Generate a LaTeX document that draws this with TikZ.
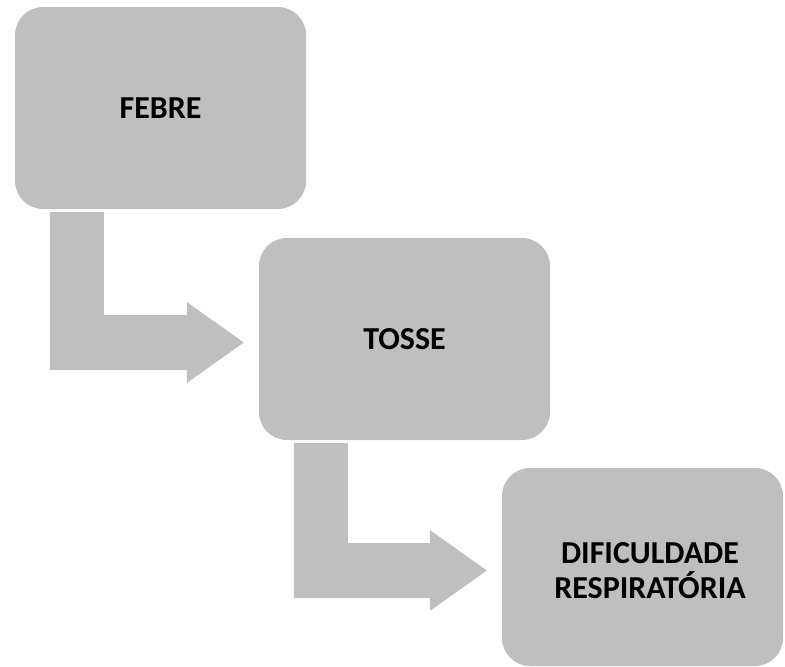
\documentclass[tikz,border=0pt]{standalone}
\usepackage{fontspec}
\setmainfont{Carlito}
\usetikzlibrary{calc}
\definecolor{boxgray}{HTML}{BFBFBF}
\tikzset{
  boxfont/.style={font=\fontsize{32}{35}\selectfont\bfseries},
  stepbox/.style={rectangle, rounded corners=28pt, fill=boxgray, draw=none, inner sep=0pt,
    boxfont, align=center},
  arrowfill/.style={fill=boxgray}
}
\newcommand\bentarr[2]{%
  \fill[arrowfill] let \p1=($(#1.south west)+(35,3)$), \p2=($(#2.west)+(-15,3.5)$) in
    (\x1,\y1) -- (\x1+54pt,\y1) -- (\x1+54pt,\y2+27.5pt) -- (\x2-57pt,\y2+27.5pt)
    -- (\x2-57pt,\y2+40.5pt) -- (\x2,\y2) -- (\x2-57pt,\y2-40.5pt)
    -- (\x2-57pt,\y2-27.5pt) -- (\x1,\y2-27.5pt) -- cycle;}
\begin{document}
\begin{tikzpicture}[x=1pt,y=-1pt]
\useasboundingbox (0,0) rectangle (785,667);
\node[stepbox, minimum width=291pt, minimum height=202pt] (febre) at (160.5,108) {FEBRE};
\node[stepbox, minimum width=291pt, minimum height=202pt] (tosse) at (404.5,339) {TOSSE};
\node[stepbox, minimum width=281pt, minimum height=198pt] (dif) at (642.5,567) {};
\node[boxfont, align=center, inner sep=0pt] (diftext) at (650,571) {DIFICULDADE\\RESPIRATÓRIA};
\bentarr{febre}{tosse}
\bentarr{tosse}{dif}
\end{tikzpicture}
\end{document}
